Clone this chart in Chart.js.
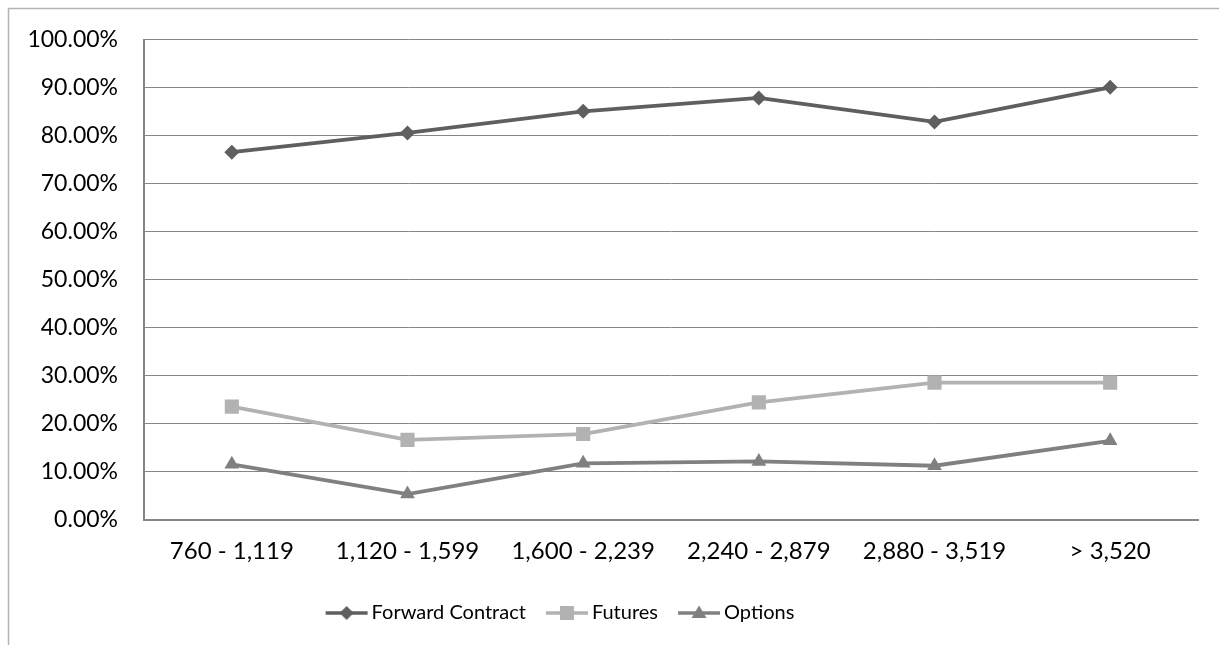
<!DOCTYPE html>
<html>
<head>
<meta charset="utf-8">
<script src="https://cdn.jsdelivr.net/npm/chart.js@4.4.1/dist/chart.umd.min.js"></script>
<style>
  html, body { margin: 0; padding: 0; background: #ffffff; }
  #wrap { width: 1219px; height: 645px; position: relative; }
</style>
</head>
<body>
<div id="wrap"><canvas id="chart" width="1219" height="645"></canvas></div>
<script>
// Turnover bands (x categories)
const categories = ['760 - 1,119', '1,120 - 1,599', '1,600 - 2,239', '2,240 - 2,879', '2,880 - 3,519', '> 3,520'];

// Share of firms using each hedging instrument, in percent
const forwardContract = [76.6, 80.6, 85.1, 87.9, 82.9, 90.1];
const futures = [23.6, 16.7, 17.9, 24.5, 28.6, 28.6];
const options = [11.6, 5.4, 11.8, 12.2, 11.3, 16.5];

// Y axis ticks
const yTicks = [0, 10, 20, 30, 40, 50, 60, 70, 80, 90, 100];

const FONT = 'Lato, "Open Sans", sans-serif';

const seriesStyles = [
  { label: 'Forward Contract', data: forwardContract, color: '#5f5f5f', point: 'rectRot', radius: 7.5 },
  { label: 'Futures', data: futures, color: '#b2b2b2', point: 'rect', radius: 10 },
  { label: 'Options', data: options, color: '#808080', point: 'triangle', radius: 8.5 }
];

// Legend swatch: a short line with the series marker in its middle
function legendSwatch(s) {
  const c = document.createElement('canvas');
  c.width = 44; c.height = 20;
  const g = c.getContext('2d');
  g.strokeStyle = s.color;
  g.fillStyle = s.color;
  g.lineWidth = 3.5;
  g.beginPath(); g.moveTo(1, 10); g.lineTo(43, 10); g.stroke();
  g.beginPath();
  if (s.point === 'rectRot') {
    g.moveTo(22, 3); g.lineTo(29, 10); g.lineTo(22, 17); g.lineTo(15, 10);
  } else if (s.point === 'rect') {
    g.rect(15, 3, 14, 14);
  } else {
    g.moveTo(22, 2.5); g.lineTo(29.5, 15); g.lineTo(14.5, 15);
  }
  g.closePath(); g.fill();
  return c;
}

const datasets = seriesStyles.map(s => ({
  label: s.label,
  data: s.data,
  borderColor: s.color,
  backgroundColor: s.color,
  borderWidth: 3.8,
  pointStyle: s.point,
  pointRadius: s.radius,
  pointHoverRadius: s.radius,
  pointBorderWidth: 0,
  pointBackgroundColor: s.color,
  tension: 0,
  swatch: legendSwatch(s)
}));

// Outer light-grey frame around the chart
const framePlugin = {
  id: 'frame',
  beforeDraw(chart) {
    const ctx = chart.ctx;
    ctx.save();
    ctx.strokeStyle = '#b3b3b3';
    ctx.lineWidth = 1.5;
    ctx.beginPath();
    ctx.moveTo(8.5, chart.height + 2);
    ctx.lineTo(8.5, 8.5);
    ctx.lineTo(chart.width + 2, 8.5);
    ctx.stroke();
    ctx.restore();
  }
};

// The legend row sits a little left of the canvas centre
const legendShift = {
  id: 'legendShift',
  afterLayout(chart) {
    const lg = chart.legend;
    if (lg) { lg.left -= 36; lg.right -= 36; }
  }
};

new Chart(document.getElementById('chart'), {
  type: 'line',
  data: { labels: categories, datasets },
  plugins: [framePlugin, legendShift],
  options: {
    responsive: false,
    animation: false,
    events: [],
    layout: { padding: { left: 0, right: 21, top: 38, bottom: 12 } },
    scales: {
      x: {
        offset: true,
        grid: { display: false, drawTicks: false },
        border: { display: true, color: '#868686', width: 2 },
        ticks: { color: '#000000', font: { family: FONT, size: 24 }, padding: 17, maxRotation: 0, autoSkip: false },
        afterFit(scale) { scale.height = 57; }
      },
      y: {
        min: 0,
        max: 100,
        afterBuildTicks(scale) { scale.ticks = yTicks.map(v => ({ value: v })); },
        grid: { color: '#868686', lineWidth: 1, drawTicks: false },
        border: { display: true, color: '#868686', width: 2 },
        ticks: {
          color: '#000000',
          font: { family: FONT, size: 23 },
          padding: 26,
          callback: v => v.toFixed(2) + '%'
        },
        afterFit(scale) { scale.width = 144; }
      }
    },
    plugins: {
      legend: {
        position: 'bottom',
        labels: {
          usePointStyle: true,
          pointStyleWidth: 30,
          padding: 26,
          color: '#000000',
          font: { family: FONT, size: 20 },
          generateLabels(chart) {
            return chart.data.datasets.map((ds, i) => ({
              text: ds.label,
              pointStyle: ds.swatch,
              fillStyle: ds.borderColor,
              strokeStyle: ds.borderColor,
              lineWidth: 0,
              hidden: false,
              datasetIndex: i,
              fontColor: '#000000'
            }));
          }
        }
      },
      tooltip: { enabled: false }
    }
  }
});
</script>
</body>
</html>
